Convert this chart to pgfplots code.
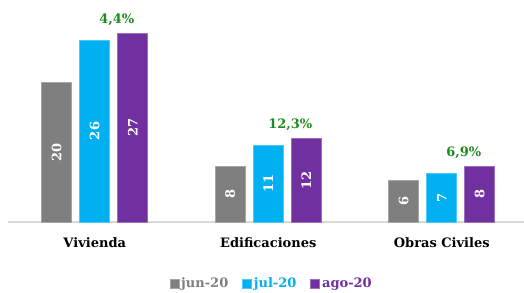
\documentclass[border=0pt]{standalone}
\usepackage{fontspec}
\setmainfont{DejaVu Serif}
\usepackage{pgfplots}
\pgfplotsset{compat=1.18}
\definecolor{cgray}{RGB}{127,127,127}
\definecolor{ccyan}{RGB}{0,176,240}
\definecolor{cpurp}{RGB}{112,48,160}
\definecolor{cgreen}{RGB}{30,140,30}
\definecolor{caxis}{RGB}{217,217,217}
\newcommand{\f}{\fontsize{13}{15}\selectfont\bfseries}
\begin{document}
\begin{tikzpicture}
\begin{axis}[
  at={(0pt,0pt)}, anchor=south west,
  scale only axis, width=516pt, height=210pt,
  xmin=-0.5, xmax=2.474, ymin=0, ymax=30,
  axis x line*=bottom, axis y line=none,
  x axis line style={-, draw=caxis, line width=1.5pt},
  xtick={0,1,2}, xticklabels={Vivienda, Edificaciones, Obras Civiles},
  major tick length=0pt, ytick=\empty,
  xticklabel style={font=\f, anchor=base, yshift=-25.7pt},
  bar width=30pt,
  clip=false,
  /pgf/number format/assume math mode=true,
  visualization depends on=rawy \as \rawy,
  legend columns=3,
  legend style={draw=none, fill=none, font=\f, at={(0.511,-0.340)}, anchor=south,
    /tikz/every even column/.append style={column sep=12pt}},
  legend image code/.code={\fill[#1] (0pt,-4.5pt) rectangle (9pt,4.5pt);},
  vlab/.style={only marks, mark=none, forget plot, nodes near coords,
    every node near coord/.style={xshift=#1, yshift={-3.5pt*\rawy}, rotate=90, anchor=center, text=white, font=\f}},
]
\addplot[ybar, bar shift=-38pt, fill=cgray, draw=cgray!70!white, line width=0.6pt]
  coordinates {(0,20) (1,8) (2,6)};
\addlegendentry{\textcolor{cgray}{jun-20}}
\addplot[ybar, bar shift=0pt, fill=ccyan, draw=ccyan!70!white, line width=0.6pt]
  coordinates {(0,26) (1,11) (2,7)};
\addlegendentry{\textcolor{ccyan}{jul-20}}
\addplot[ybar, bar shift=38pt, fill=cpurp, draw=cpurp!70!white, line width=0.6pt]
  coordinates {(0,27) (1,12) (2,8)};
\addlegendentry{\textcolor{cpurp}{ago-20}}
\addplot[vlab=-38pt] coordinates {(0,20) (1,8) (2,6)};
\addplot[vlab=0pt] coordinates {(0,26) (1,11) (2,7)};
\addplot[vlab=38pt] coordinates {(0,27) (1,12) (2,8)};
\addplot[only marks, mark=none, forget plot, point meta=explicit symbolic, nodes near coords,
  every node near coord/.style={anchor=south, text=cgreen, font=\f, xshift=22pt, yshift=4pt}]
  coordinates {(0,27)[4,4\%] (1,12)[12,3\%] (2,8)[6,9\%]};
\end{axis}
\pgfresetboundingbox
\useasboundingbox (-8pt,-70pt) rectangle (516pt,222pt);
\end{tikzpicture}
\end{document}
